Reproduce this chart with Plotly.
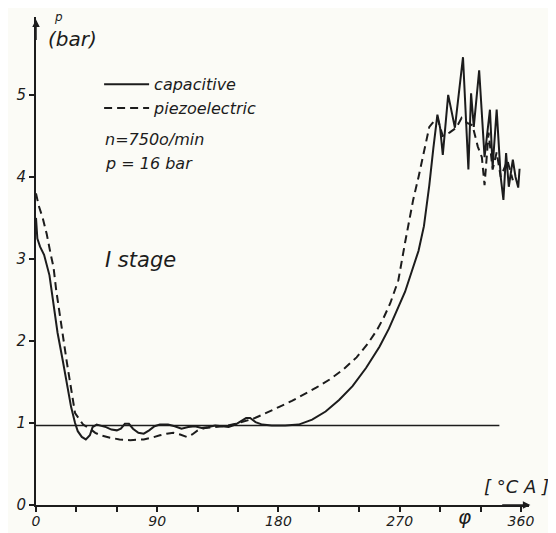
import plotly.graph_objects as go

# crank angle [deg CA] and pressure [bar]
cap_deg = [0, 1, 3, 6, 10, 13, 16, 20, 23, 26, 29, 31, 34, 37, 40, 42, 45, 48, 52, 56, 60, 63, 66, 69, 72, 76, 80, 84, 88, 92, 98, 103, 108, 113, 118, 123, 128, 133, 138, 143, 148, 152, 156, 159, 163, 168, 175, 185, 195, 205, 215, 225, 235, 245, 255, 262, 268, 274, 279, 284, 288, 292, 295, 298, 300, 302, 306, 311, 317, 321, 323, 325, 329, 333, 337, 339, 342, 345, 347, 349, 351, 354, 356, 358, 359]
cap_p = [3.5, 3.25, 3.15, 3.05, 2.8, 2.45, 2.1, 1.75, 1.45, 1.2, 1.0, 0.9, 0.83, 0.80, 0.85, 0.95, 0.98, 0.97, 0.95, 0.92, 0.91, 0.93, 0.99, 0.99, 0.93, 0.88, 0.87, 0.91, 0.96, 0.98, 0.98, 0.96, 0.93, 0.95, 0.96, 0.94, 0.95, 0.97, 0.96, 0.95, 0.98, 1.02, 1.06, 1.06, 1.01, 0.98, 0.97, 0.97, 0.98, 1.04, 1.14, 1.28, 1.45, 1.67, 1.93, 2.15, 2.38, 2.6, 2.85, 3.1, 3.4, 3.9, 4.35, 4.76, 4.6, 4.27, 5.0, 4.6, 5.46, 4.09, 5.02, 4.61, 5.3, 4.24, 4.82, 4.12, 4.82, 4.0, 3.72, 4.29, 3.88, 4.21, 4.0, 3.87, 4.1]

piezo_deg = [0, 2, 5, 8, 11, 13, 15, 18, 21, 23, 26, 29, 32, 35, 40, 44, 48, 55, 62, 70, 80, 86, 92, 97, 102, 107, 112, 116, 120, 126, 132, 140, 148, 155, 161, 168, 175, 181, 190, 198, 208, 218, 228, 238, 246, 253, 258, 263, 269, 274, 280, 284, 287, 292, 295, 298, 302, 307, 312, 316, 320, 324, 328, 331, 333, 336, 339, 342, 345, 350, 354]
piezo_p = [3.8, 3.65, 3.5, 3.3, 3.05, 2.9, 2.62, 2.25, 1.95, 1.73, 1.4, 1.12, 1.05, 0.98, 0.93, 0.88, 0.85, 0.82, 0.80, 0.79, 0.80, 0.82, 0.85, 0.87, 0.88, 0.86, 0.83, 0.86, 0.91, 0.94, 0.95, 0.96, 0.99, 1.02, 1.05, 1.1, 1.15, 1.2, 1.27, 1.34, 1.43, 1.53, 1.65, 1.8, 1.96, 2.13, 2.28, 2.46, 2.74, 3.2, 3.72, 4.0, 4.24, 4.61, 4.67, 4.72, 4.5, 4.54, 4.6, 4.72, 4.66, 4.63, 4.37, 4.24, 3.9, 4.54, 4.09, 4.3, 4.0, 4.2, 3.96]

ref_deg = [0, 344]
ref_p = [0.97, 0.97]

x_tick_vals = [0, 30, 60, 90, 120, 150, 180, 210, 240, 270, 300, 330, 360]
x_tick_text = ["0", "", "", "90", "", "", "180", "", "", "270", "", "", "360"]
y_tick_vals = [0, 1, 2, 3, 4, 5]
y_tick_text = ["0", "1", "2", "3", "4", "5"]

INK = "#1c1c1c"
FONT = "DejaVu Sans"

fig = go.Figure()
fig.add_trace(go.Scatter(x=ref_deg, y=ref_p, mode="lines", line=dict(color=INK, width=1.6),
                         showlegend=False, hoverinfo="skip"))
fig.add_trace(go.Scatter(x=cap_deg, y=cap_p, mode="lines", name="capacitive",
                         line=dict(color=INK, width=2)))
fig.add_trace(go.Scatter(x=piezo_deg, y=piezo_p, mode="lines", name="piezoelectric",
                         line=dict(color=INK, width=2, dash="8px,5px")))

# the page body adds an 8 px offset, so margins are reduced by 8 on the top/left
fig.update_layout(
    width=556, height=533,
    margin=dict(l=28, r=35, t=9, b=36, autoexpand=False),
    paper_bgcolor="#fbfbf6", plot_bgcolor="#fbfbf6",
    font=dict(family=FONT, color=INK, style="italic"),
    legend=dict(x=0.128, y=0.897, xanchor="left", yanchor="top", bgcolor="rgba(0,0,0,0)",
                font=dict(size=16, family=FONT, style="italic"), itemwidth=45,
                tracegroupgap=0),
    xaxis=dict(range=[0, 366], showgrid=False, zeroline=False, showline=True, linecolor=INK,
               linewidth=2, ticks="outside", ticklen=5, tickwidth=1.5, tickcolor=INK,
               tickvals=x_tick_vals, ticktext=x_tick_text, automargin=False,
               ticklabelstandoff=-3,
               tickfont=dict(size=14, family=FONT, style="italic")),
    yaxis=dict(range=[0, 5.95], showgrid=False, zeroline=False, showline=True, linecolor=INK,
               linewidth=2, ticks="outside", ticklen=5, tickwidth=1.5, tickcolor=INK,
               tickvals=y_tick_vals, ticktext=y_tick_text, automargin=False,
               tickfont=dict(size=15, family=FONT, style="italic")),
)

ann = [
    dict(x=0.045, y=0.999, text="p", font=dict(size=12)),
    dict(x=0.075, y=0.954, text="(bar)", font=dict(size=20)),
    dict(x=0.136, y=0.748, text="n=750o/min", xanchor="left", font=dict(size=16)),
    dict(x=0.136, y=0.70, text="p = 16 bar", xanchor="left", font=dict(size=16)),
    dict(x=0.136, y=0.502, text="I stage", xanchor="left", font=dict(size=21)),
    dict(x=0.974, y=0.037, text="[ °C A ]", font=dict(size=18)),
    dict(x=0.87, y=-0.025, text="φ", font=dict(size=20)),
]
for a in ann:
    a.setdefault("xanchor", "center")
    fig.add_annotation(xref="paper", yref="paper", showarrow=False, yanchor="middle", **a)

# axis arrow heads
fig.add_annotation(x=0, y=5.92, ax=0, ay=5.65, xref="x", yref="y", axref="x", ayref="y",
                   showarrow=True, arrowhead=2, arrowsize=1, arrowwidth=1.5, arrowcolor=INK, text="")
fig.add_annotation(x=367, y=0, ax=345, ay=0, xref="x", yref="y", axref="x", ayref="y",
                   showarrow=True, arrowhead=2, arrowsize=1, arrowwidth=1.5, arrowcolor=INK, text="")

fig.write_html("out.html")
